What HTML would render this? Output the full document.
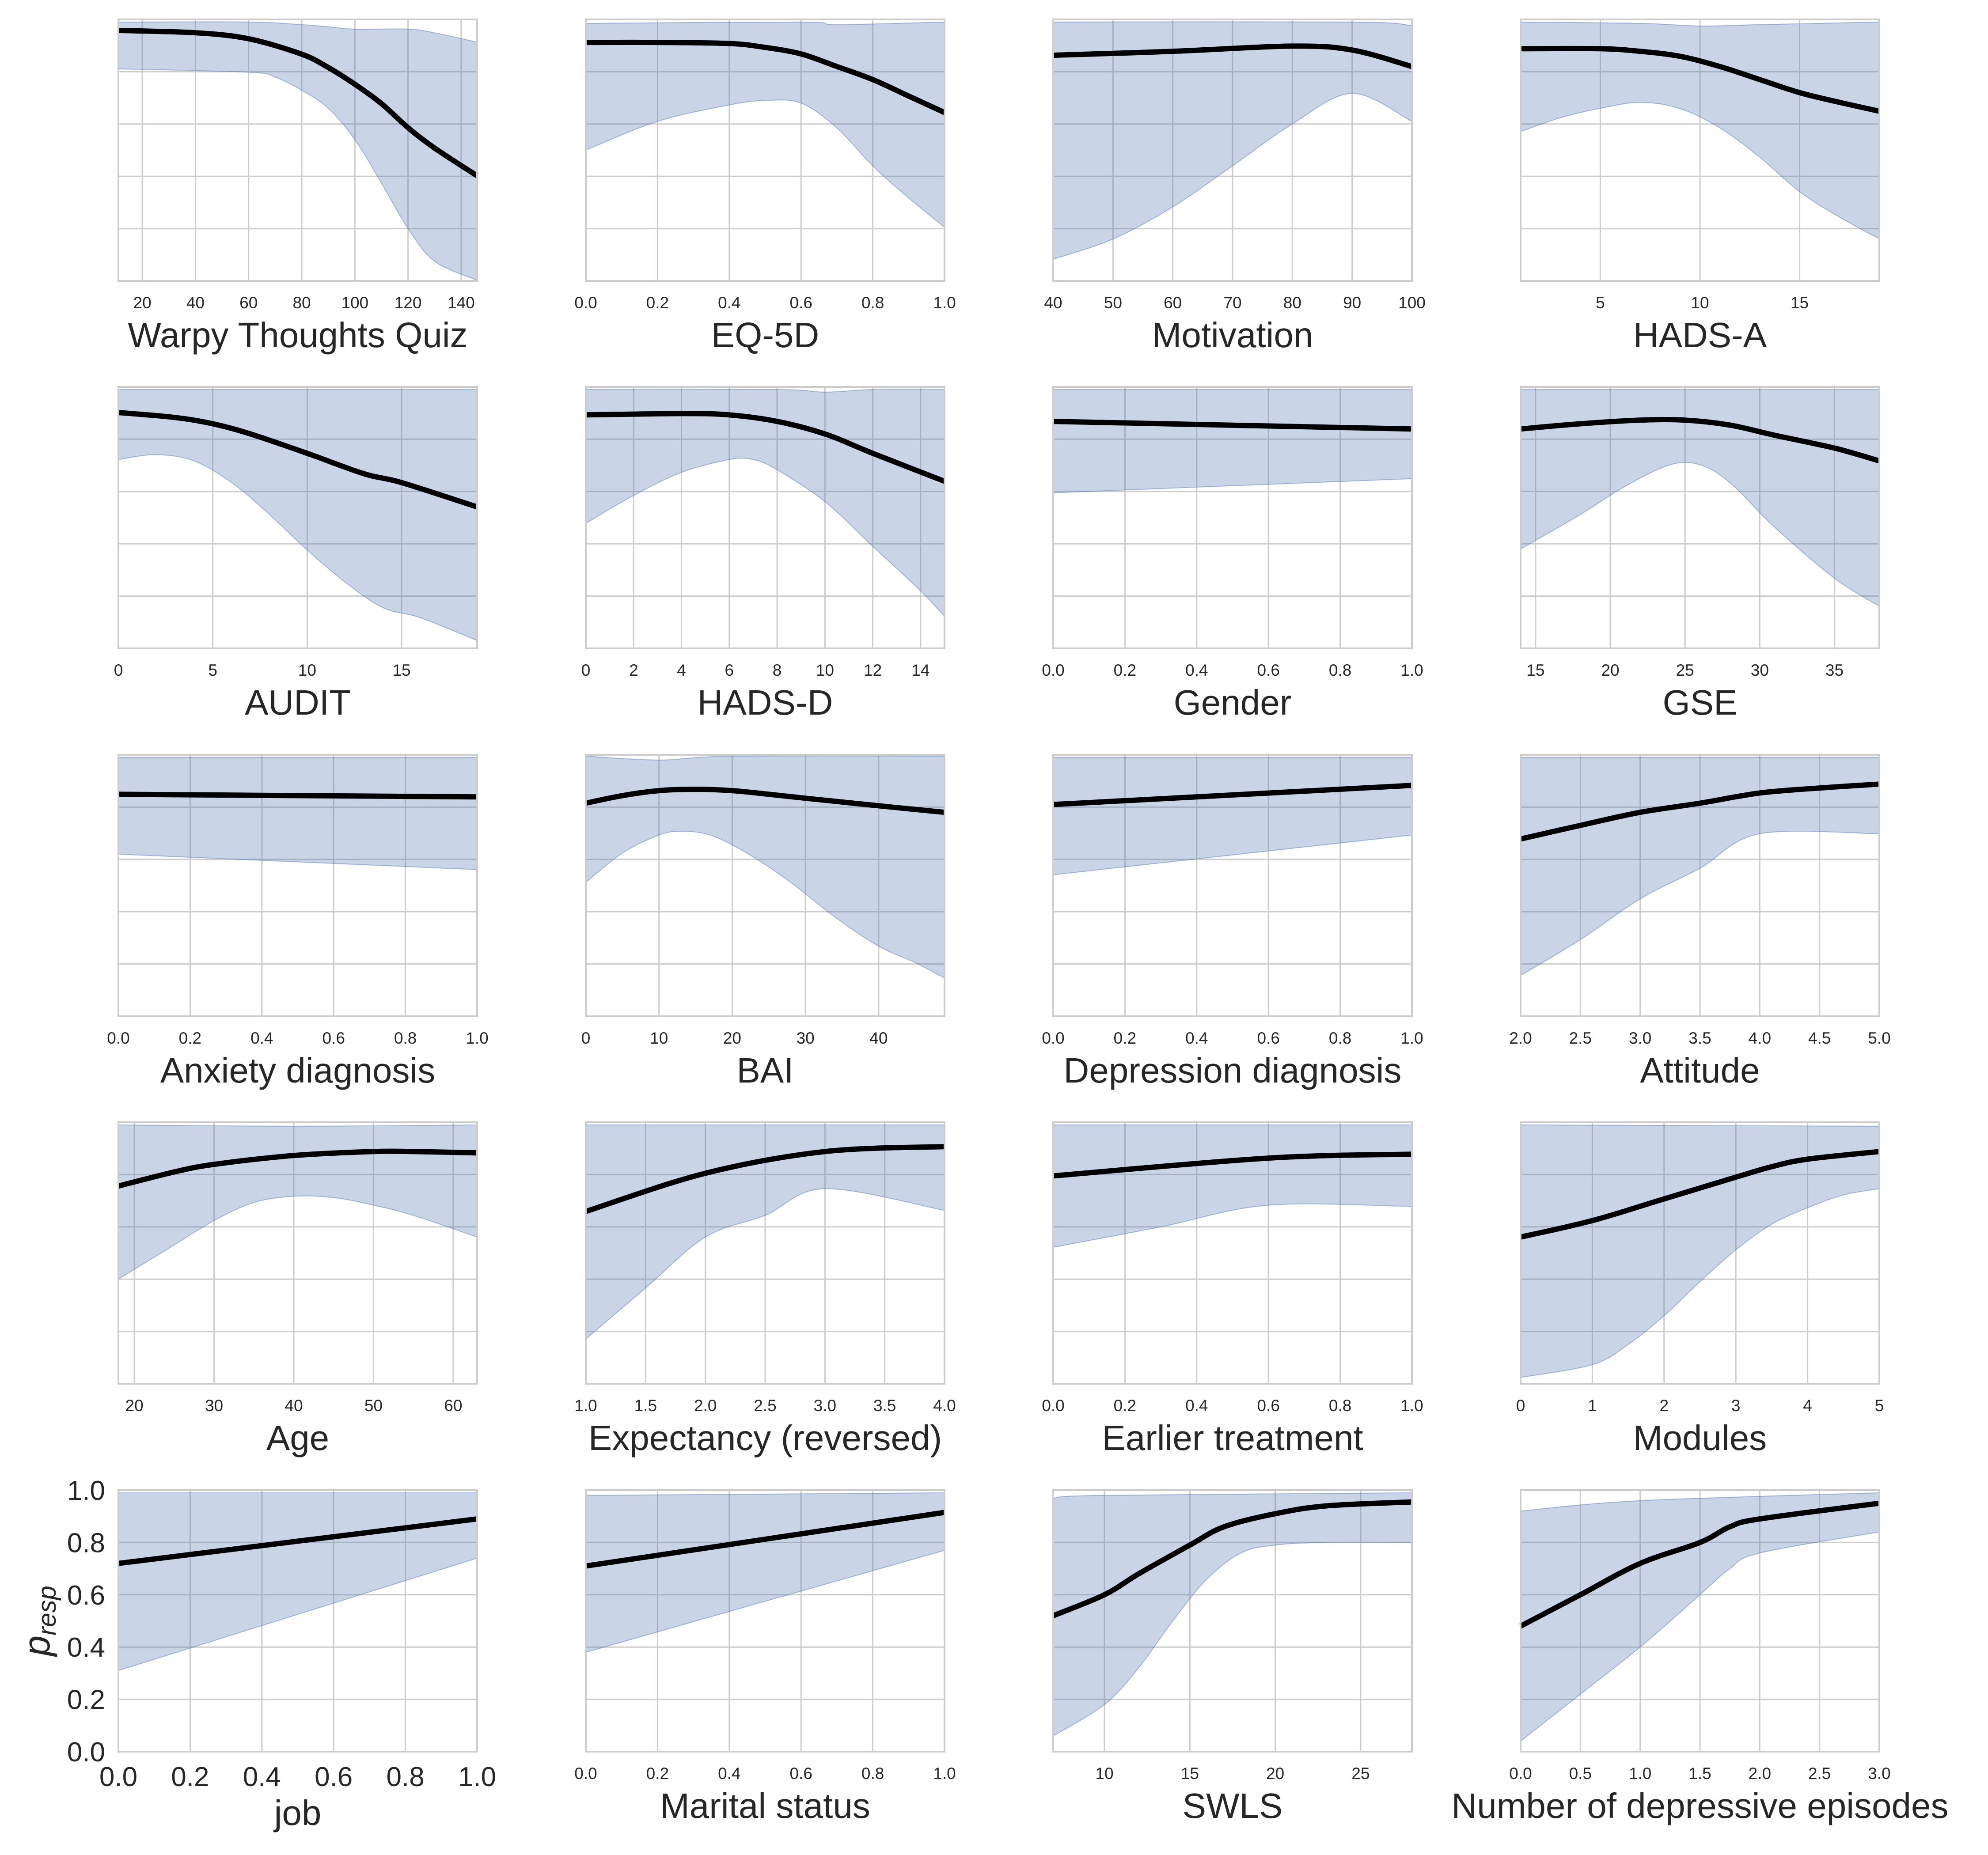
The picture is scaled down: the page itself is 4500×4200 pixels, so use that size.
<!DOCTYPE html>
<html><head><meta charset="utf-8">
<style>
html,body{margin:0;padding:0;background:#fff;}
svg{display:block;}
text{font-family:"Liberation Sans",sans-serif;fill:#262626;}
</style></head>
<body>
<svg id="chart" xmlns="http://www.w3.org/2000/svg" width="4500" height="4200" viewBox="0 0 4500 4200"></svg>
<script>
const panelTitles = ["Warpy Thoughts Quiz","EQ-5D","Motivation","HADS-A","AUDIT","HADS-D","Gender","GSE","Anxiety diagnosis","BAI","Depression diagnosis","Attitude","Age","Expectancy (reversed)","Earlier treatment","Modules","job","Marital status","SWLS","Number of depressive episodes"];
const xDomains = [[11,146],[0,1],[40,100],[1,19],[0,19],[0,15],[0,1],[14,38],[0,1],[0,49],[0,1],[2,5],[18,63],[1,4],[0,1],[0,5],[0,1],[0,1],[7,28],[0,3]];
const xTicks = [[20,40,60,80,100,120,140],[0,0.2,0.4,0.6,0.8,1],[40,50,60,70,80,90,100],[5,10,15],[0,5,10,15],[0,2,4,6,8,10,12,14],[0,0.2,0.4,0.6,0.8,1],[15,20,25,30,35],[0,0.2,0.4,0.6,0.8,1],[0,10,20,30,40],[0,0.2,0.4,0.6,0.8,1],[2,2.5,3,3.5,4,4.5,5],[20,30,40,50,60],[1,1.5,2,2.5,3,3.5,4],[0,0.2,0.4,0.6,0.8,1],[0,1,2,3,4,5],[0,0.2,0.4,0.6,0.8,1],[0,0.2,0.4,0.6,0.8,1],[10,15,20,25],[0,0.5,1,1.5,2,2.5,3]];
const tickDecimals = [0,1,0,0,0,0,1,0,1,0,1,1,0,1,1,0,1,1,0,1];
const yTicks = [0,0.2,0.4,0.6,0.8,1.0];
const yTickLabels = ["0.0","0.2","0.4","0.6","0.8","1.0"];

const meanX = [[11,40,60,80,90,100,110,120,130,146],[0,0.2,0.4,0.5,0.6,0.7,0.8,0.9,1],[40,60,80,90,100],[1,5,7,9,11,13,15,17,19],[0,3,5,7,10,13,15,19],[0,4,6,8,10,12,15],[0,1],[14,18,22,25,28,31,35,38],[0,1],[0,5,10,15,20,25,30,40,49],[0,1],[2,2.5,3,3.5,4,4.5,5],[18,25,30,40,50,55,63],[1,2,3,4],[0,0.6,1],[0,1,2,3,3.5,4,5],[0,1],[0,1],[7,10,12,15,17,20,23,28],[0,0.5,1,1.5,1.75,2,3]];
const meanY = [[0.958,0.949,0.926,0.867,0.816,0.752,0.678,0.586,0.508,0.402],[0.912,0.912,0.908,0.893,0.868,0.82,0.77,0.707,0.644],[0.863,0.878,0.898,0.883,0.82],[0.888,0.888,0.878,0.859,0.82,0.77,0.72,0.683,0.649],[0.902,0.883,0.859,0.82,0.746,0.668,0.634,0.541],[0.893,0.898,0.893,0.868,0.82,0.746,0.639],[0.868,0.839],[0.839,0.859,0.873,0.873,0.854,0.815,0.766,0.717],[0.849,0.839],[0.815,0.844,0.863,0.868,0.863,0.849,0.834,0.805,0.78],[0.81,0.883],[0.678,0.73,0.78,0.815,0.854,0.873,0.888],[0.756,0.81,0.839,0.873,0.888,0.888,0.883],[0.659,0.805,0.888,0.907],[0.795,0.863,0.878],[0.561,0.624,0.707,0.79,0.83,0.859,0.888],[0.72,0.89],[0.71,0.915],[0.52,0.6,0.68,0.79,0.86,0.91,0.94,0.955],[0.48,0.6,0.72,0.8,0.86,0.89,0.95]];

const upperX = [[11,60,80,90,100,120,130,146],[0,0.6,0.7,1],[40,90,100],[1,7,10,13,19],[0,19],[0,8,10,12,15],[0,1],[14,38],[0,1],[0,10,20,49],[0,1],[2,4,5],[18,40,63],[1,4],[0,1],[0,5],[0,1],[0,1],[7,10,28],[0,1,3]];
const upperY = [[0.99,0.99,0.98,0.972,0.963,0.963,0.949,0.913],[0.985,0.99,0.98,0.99],[0.99,0.99,0.976],[0.99,0.985,0.975,0.98,0.99],[0.99,0.99],[0.99,0.99,0.98,0.99,0.99],[0.99,0.99],[0.99,0.99],[0.99,0.99],[0.995,0.98,0.995,0.995],[0.99,0.99],[0.99,0.99,0.99],[0.99,0.985,0.99],[0.99,0.99],[0.99,0.99],[0.99,0.985],[0.99,0.99],[0.98,0.99],[0.97,0.98,0.99],[0.92,0.96,0.99]];

const lowerX = [[11,60,70,80,90,100,110,120,130,146],[0,0.2,0.4,0.5,0.6,0.7,0.8,0.9,1],[40,50,60,70,80,90,100],[1,3,5,7,9,11,13,15,17,19],[0,2,4,6,8,10,12,14,16,19],[0,2,4,6,7,8,10,12,14,15],[0,1],[14,18,21,24,26,28,31,35,38],[0,1],[0,5,10,13,17,22,28,34,40,45,49],[0,1],[2,2.5,3,3.5,4,5],[18,24,30,35,40,45,50,55,63],[1,1.5,2,2.5,3,4],[0,0.3,0.6,1],[0,1,1.5,2,2.5,3,3.5,4,4.5,5],[0,1],[0,1],[7,10,12,14,16,18,20,23,28],[0,0.5,1,1.5,1.75,2,3]];
const lowerY = [[0.811,0.798,0.779,0.729,0.66,0.54,0.374,0.2,0.075,0.002],[0.5,0.61,0.673,0.69,0.68,0.585,0.44,0.317,0.205],[0.083,0.16,0.283,0.44,0.6,0.717,0.61],[0.571,0.624,0.66,0.683,0.659,0.585,0.473,0.341,0.244,0.161],[0.722,0.741,0.717,0.634,0.512,0.376,0.254,0.156,0.117,0.03],[0.478,0.585,0.673,0.722,0.722,0.683,0.561,0.39,0.22,0.122],[0.595,0.649],[0.38,0.512,0.62,0.702,0.702,0.634,0.463,0.268,0.161],[0.62,0.561],[0.512,0.624,0.693,0.707,0.693,0.624,0.512,0.38,0.268,0.205,0.146],[0.541,0.693],[0.156,0.293,0.449,0.566,0.698,0.698],[0.4,0.512,0.624,0.693,0.717,0.712,0.683,0.644,0.561],[0.171,0.366,0.561,0.644,0.746,0.663],[0.522,0.6,0.683,0.678],[0.024,0.073,0.15,0.26,0.39,0.512,0.61,0.673,0.722,0.746],[0.31,0.74],[0.38,0.77],[0.06,0.18,0.32,0.5,0.66,0.76,0.79,0.8,0.8],[0.04,0.22,0.4,0.6,0.7,0.76,0.84]];

const NS = "http://www.w3.org/2000/svg";
const svg = document.getElementById("chart");
const colLeft = [268,1326,2384,3442];
const rowTop = [44,876,1709,2541,3374];
const PW = 812, PH = 592;

function mk(tag, attrs, parent){
  const e = document.createElementNS(NS, tag);
  for (const k in attrs) e.setAttribute(k, attrs[k]);
  (parent||svg).appendChild(e);
  return e;
}
function fmt(v,d){ return v.toFixed(d); }
// Catmull-Rom smoothing through points; returns path segments (without initial M if cont)
function smooth(pts, cont){
  let d = (cont ? "L" : "M") + pts[0][0].toFixed(1) + "," + pts[0][1].toFixed(1);
  for (let k = 0; k < pts.length - 1; k++) {
    const p0 = pts[Math.max(k-1,0)], p1 = pts[k], p2 = pts[k+1], p3 = pts[Math.min(k+2,pts.length-1)];
    const c1x = p1[0] + (p2[0]-p0[0])/6, c1y = p1[1] + (p2[1]-p0[1])/6;
    const c2x = p2[0] - (p3[0]-p1[0])/6, c2y = p2[1] - (p3[1]-p1[1])/6;
    d += "C" + c1x.toFixed(1) + "," + c1y.toFixed(1) + " " + c2x.toFixed(1) + "," + c2y.toFixed(1) + " " + p2[0].toFixed(1) + "," + p2[1].toFixed(1);
  }
  return d;
}

for (let i = 0; i < panelTitles.length; i++) {
  const L = colLeft[i % 4], T = rowTop[Math.floor(i / 4)];
  const [x0, x1] = xDomains[i];
  const sx = v => L + (v - x0) / (x1 - x0) * PW;
  const sy = v => T + PH - v * PH;
  const big = (i === 16);
  const g = mk("g", {});
  
  

  for (const yt of yTicks) {
    const gl = mk("line", {x1:L, x2:L+PW, y1:sy(yt), y2:sy(yt), stroke:"#cccccc", "stroke-width":3}, g);
    
    
  }
  for (const xt of xTicks[i]) {
    const gl = mk("line", {x1:sx(xt), x2:sx(xt), y1:T, y2:T+PH, stroke:"#cccccc", "stroke-width":3}, g);
    
    
  }

  const up = upperX[i].map((x, k) => [sx(x), sy(upperY[i][k])]);
  const lo = lowerX[i].map((x, k) => [sx(x), sy(lowerY[i][k])]).reverse();
  const d = smooth(up, false) + smooth(lo, true) + "Z";
  const band = mk("path", {d:d, fill:"rgba(76,114,176,0.3)", stroke:"rgba(76,114,176,0.45)", "stroke-width":2}, g);
  
  

  const mp = meanX[i].map((x, k) => [sx(x), sy(meanY[i][k])]);
  const ln = mk("path", {d:smooth(mp, false), fill:"none", stroke:"#000", "stroke-width":12, "stroke-linejoin":"round"}, g);
  
  

  const fr = mk("rect", {x:L, y:T, width:PW, height:PH, fill:"none", stroke:"#cccccc", "stroke-width":4}, g);
  
  

  for (const xt of xTicks[i]) {
    const t = mk("text", {x:sx(xt), y:T+PH+(big?78:62), "text-anchor":"middle", "font-size":big?62:37}, g);
    t.textContent = fmt(xt, tickDecimals[i]);
    
    
  }
  const tt = mk("text", {x:L+PW/2, y:T+PH+(big?166:150), "text-anchor":"middle", "font-size":80}, g);
  tt.textContent = panelTitles[i];
  
  

  if (big) {
    yTicks.forEach((yt, k) => {
      const t = mk("text", {x:238, y:sy(yt)+22, "text-anchor":"end", "font-size":62}, g);
      t.textContent = yTickLabels[k];
      
      
    });
    const yl = mk("text", {x:0, y:0, transform:"translate(112," + (T+PH/2) + ") rotate(-90)", "text-anchor":"middle", "font-size":84, "font-family":"Liberation Serif, serif", "font-style":"italic"}, g);
    
    
    const p1 = mk("tspan", {}, yl); p1.textContent = "p";
    const p2 = mk("tspan", {dy:14, "font-size":58}, yl); p2.textContent = "resp";
  }
}
</script>
</body></html>
